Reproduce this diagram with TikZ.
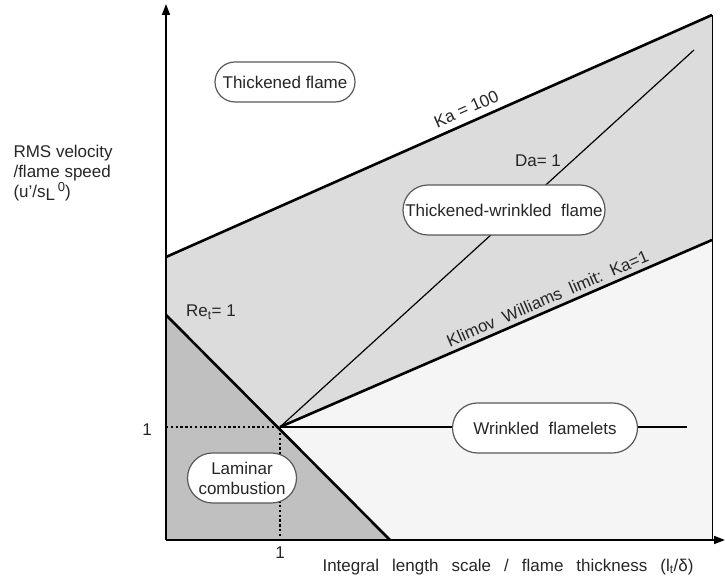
\documentclass[tikz,border=0pt]{standalone}
\usepackage{fontspec}
\setmainfont{Liberation Sans}
\usetikzlibrary{shapes.misc,arrows.meta}
\definecolor{zoneupper}{HTML}{DCDCDC}
\definecolor{zonelower}{HTML}{F5F5F5}
\definecolor{zonelam}{HTML}{C0C0C0}
\newcommand{\figfont}{\fontsize{17}{20}\selectfont}
\newcommand{\wgap}{\hspace{13pt}}
\begin{document}
\begin{tikzpicture}[x=1pt, y=1pt, >={Triangle[length=11pt,width=8pt]},
  regime/.style={rounded rectangle, draw=black!65, line width=1.2pt, fill=white, inner xsep=10pt},
  bound/.style={line width=2.6pt},
  every node/.style={font=\figfont, text=black!85}]
  \useasboundingbox (0,0) rectangle (725,585);
  \coordinate (O) at (166,45);
  \coordinate (Xend) at (725,45);
  \coordinate (Ytop) at (166,581);
  \coordinate (KaL) at (166,328);
  \coordinate (KaR) at (712,570);
  \coordinate (KwR) at (712,345);
  \coordinate (BR) at (712,45);
  \coordinate (P) at (280,158);
  \coordinate (DaR) at (694,535);
  \coordinate (ReL) at (166,270);
  \coordinate (ReR) at (390,45);
  \coordinate (Hend) at (687,158);
  \coordinate (Px) at (280,45);
  \coordinate (Py) at (166,158);
  \fill[zoneupper] (KaL) -- (KaR) -- (KwR) -- (P) -- (ReL) -- cycle;
  \fill[zonelower] (P) -- (KwR) -- (BR) -- (ReR) -- cycle;
  \fill[zonelam] (ReL) -- (ReR) -- (O) -- cycle;
  \draw[line width=1pt] (KaR) -- (BR);
  \draw[line width=1.2pt] (P) -- (DaR);
  \draw[line width=1.2pt] (P) -- (Hend);
  \draw[line width=2.4pt, dash pattern=on 2.4pt off 2.4pt] (Py) -- (P) -- (Px);
  \draw[bound] (KaL) -- (KaR) node[pos=0.56, above=3pt, sloped] {Ka = 100};
  \draw[bound] (P) -- (KwR) node[pos=0.63, above=1pt, sloped] {Klimov\ \ Williams\ \ limit:\ \ Ka=1};
  \draw[bound] (ReL) -- (ReR);
  \draw[->, line width=1.6pt] (O) -- (Xend);
  \draw[->, line width=1.6pt] (O) -- (Ytop);
  \node[regime, minimum width=160pt, minimum height=40pt] (thick) at (285,503) {Thickened flame};
  \node[regime, minimum width=222pt, minimum height=50pt] (tw) at (504,375) {Thickened-wrinkled\ \ flame};
  \node[regime, minimum width=205pt, minimum height=50pt] (wf) at (545,157) {Wrinkled\ \ flamelets};
  \node[regime, minimum width=117pt, minimum height=50pt, align=center, inner xsep=4pt] (lam) at (242,107) {Laminar\\combustion};
  \node (da) at (538,424) {Da= 1};
  \node (re) at (211,273) {Re\textsubscript{t}= 1};
  \node (yone) at (147,155) {1};
  \node (xone) at (280,32) {1};
  \node[anchor=north west, align=left] (ylab) at (10,443) {RMS\ velocity\\/flame\ speed\\(u'/s\raisebox{-0.35ex}{L}\,\raisebox{0.7ex}{\fontsize{13}{15}\selectfont 0})};
  \node (xlab) at (508,18) {Integral\wgap length\wgap scale\wgap /\wgap flame\wgap thickness\wgap (l\textsubscript{t}/δ)};
\end{tikzpicture}
\end{document}
